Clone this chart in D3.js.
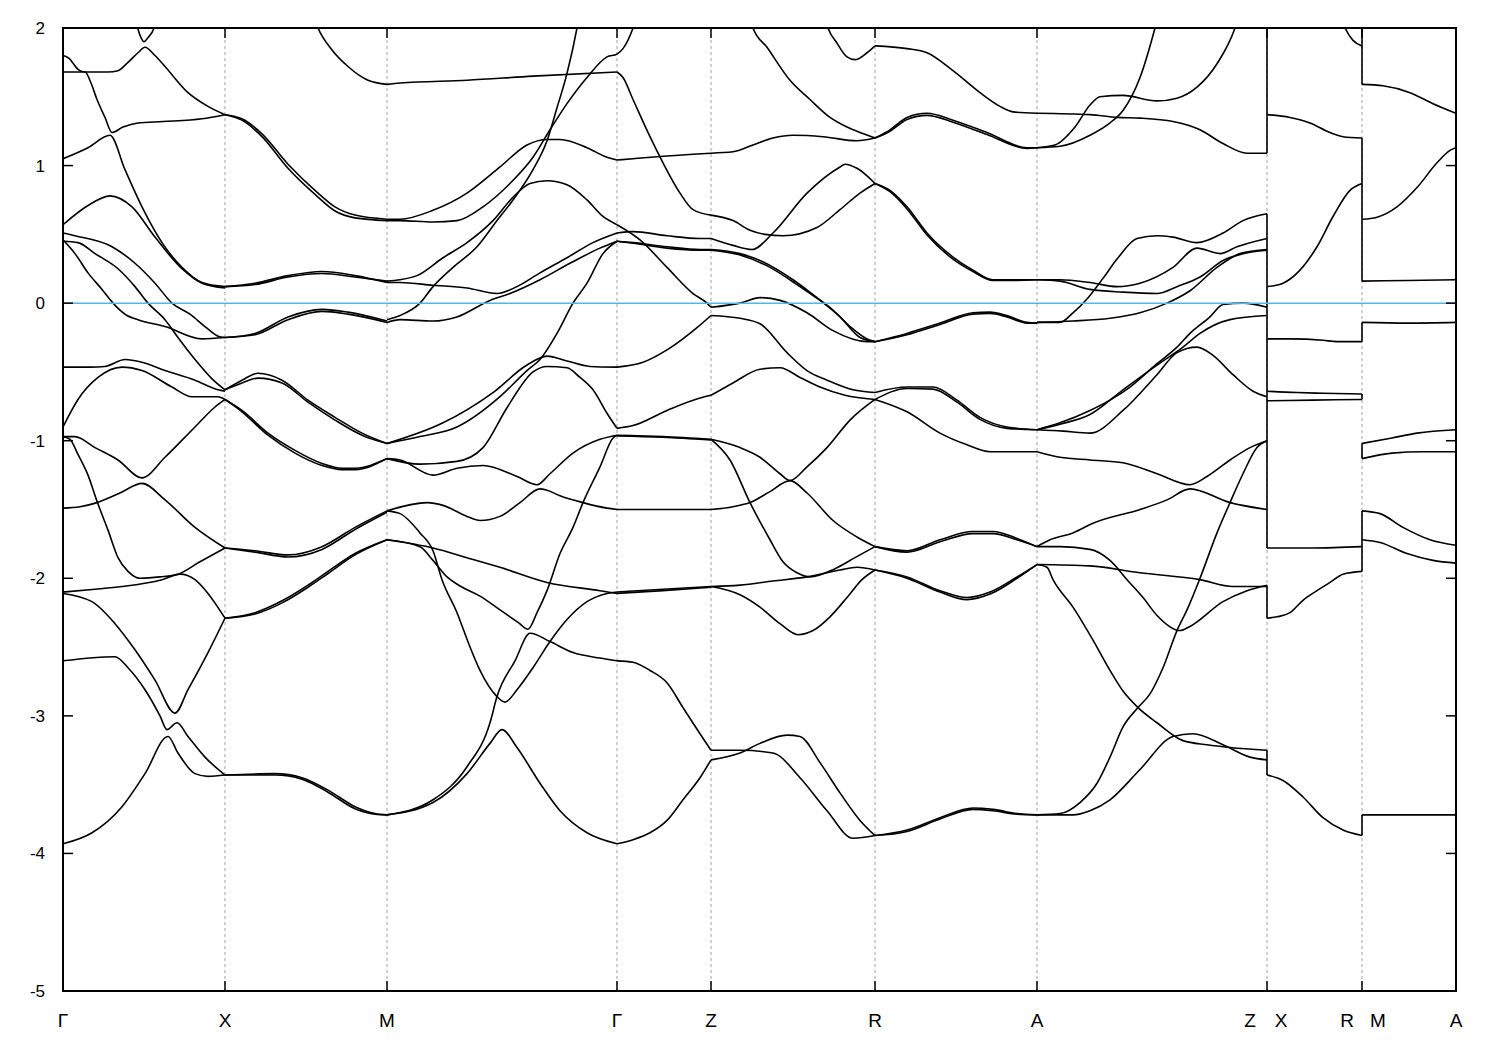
<!DOCTYPE html>
<html><head><meta charset="utf-8">
<script src="https://cdn.jsdelivr.net/npm/d3@7/dist/d3.min.js"></script>
<style>body{margin:0;background:#fff;} text{font-family:"Liberation Sans",Arial,sans-serif;}</style>
</head><body>
<svg id="chart" width="1500" height="1050"></svg>
<script>
// high-symmetry path positions (k) and labels
const kPoints = [0, 1.62, 3.24, 5.54, 6.48, 8.12, 9.74, 12.04, 12.99, 13.93];
const kLabels = [[0,"Γ"],[1.62,"X"],[3.24,"M"],[5.54,"Γ"],[6.48,"Z"],[8.12,"R"],[9.74,"A"],[11.87,"Z"],[12.18,"X"],[12.84,"R"],[13.15,"M"],[13.93,"A"]];
const yTicks = [2,1,0,-1,-2,-3,-4,-5];

// bands, each curve is a list of [k, E(eV)]
const segGX = [
 [[0.66,2.4],[0.74,2.02],[0.78,1.93],[0.81,1.90],[0.85,1.93],[0.92,2.02],[1.0,2.4]],
 [[0,1.80],[0.06,1.78],[0.15,1.70],[0.22,1.68],[0.45,1.68],[0.55,1.69],[0.65,1.75],[0.75,1.82],[0.82,1.86],[0.92,1.80],[1.02,1.72],[1.25,1.53],[1.45,1.43],[1.62,1.37]],
 [[0,1.68],[0.22,1.68],[0.28,1.60],[0.34,1.48],[0.42,1.35],[0.49,1.24],[0.6,1.28],[0.75,1.31],[1.0,1.32],[1.39,1.34],[1.62,1.37]],
 [[0,1.05],[0.25,1.13],[0.47,1.22],[0.62,0.97],[0.79,0.70],[0.99,0.44],[1.19,0.26],[1.39,0.15],[1.62,0.12]],
 [[0,0.57],[0.25,0.71],[0.47,0.78],[0.69,0.70],[0.92,0.48],[1.19,0.25],[1.39,0.145],[1.62,0.11]],
 [[0,0.51],[0.12,0.49],[0.49,0.41],[0.72,0.29],[0.92,0.145],[1.09,0.0],[1.27,-0.08],[1.42,-0.17],[1.55,-0.24],[1.62,-0.25]],
 [[0,0.45],[0.15,0.44],[0.32,0.36],[0.55,0.25],[0.72,0.12],[0.85,0.0],[1.02,-0.12],[1.15,-0.25],[1.32,-0.41],[1.49,-0.55],[1.62,-0.63]],
 [[0,0.46],[0.12,0.36],[0.25,0.22],[0.39,0.10],[0.50,0.0],[0.64,-0.09],[0.75,-0.12],[1.02,-0.17],[1.39,-0.26],[1.62,-0.25]],
 [[0,-0.465],[0.27,-0.465],[0.42,-0.46],[0.62,-0.41],[0.79,-0.43],[1.02,-0.49],[1.32,-0.56],[1.55,-0.63],[1.62,-0.64]],
 [[0,-0.90],[0.15,-0.70],[0.35,-0.54],[0.59,-0.465],[0.79,-0.49],[1.09,-0.61],[1.29,-0.68],[1.55,-0.68],[1.62,-0.70]],
 [[0,-0.97],[0.12,-0.97],[0.32,-1.05],[0.55,-1.14],[0.79,-1.27],[1.02,-1.12],[1.32,-0.90],[1.52,-0.755],[1.62,-0.70]],
 [[0,-0.97],[0.07,-0.99],[0.15,-1.10],[0.25,-1.25],[0.34,-1.44],[0.45,-1.65],[0.55,-1.85],[0.65,-1.95],[0.77,-2.0],[0.97,-1.99],[1.15,-1.97],[1.37,-1.88],[1.62,-1.78]],
 [[0,-1.49],[0.17,-1.48],[0.34,-1.45],[0.57,-1.38],[0.79,-1.31],[1.02,-1.43],[1.32,-1.63],[1.62,-1.78]],
 [[0,-2.10],[0.32,-2.08],[0.59,-2.06],[0.99,-2.01],[1.17,-1.97],[1.32,-2.01],[1.45,-2.11],[1.62,-2.29]],
 [[0,-2.11],[0.29,-2.17],[0.52,-2.33],[0.72,-2.52],[0.92,-2.74],[1.12,-2.98],[1.25,-2.81],[1.45,-2.54],[1.62,-2.29]],
 [[0,-2.60],[0.52,-2.57],[0.65,-2.65],[0.82,-2.81],[0.97,-3.0],[1.04,-3.10],[1.14,-3.05],[1.25,-3.15],[1.42,-3.30],[1.62,-3.43]],
 [[0,-3.93],[0.29,-3.85],[0.59,-3.66],[0.82,-3.42],[1.05,-3.15],[1.15,-3.27],[1.32,-3.42],[1.45,-3.44],[1.62,-3.43]]
];
const segXM = [
 [[2.40,2.35],[2.55,2.0],[2.69,1.84],[2.85,1.72],[3.05,1.62],[3.24,1.59]],
 [[1.62,1.37],[1.79,1.34],[1.99,1.23],[2.25,1.01],[2.52,0.82],[2.72,0.70],[2.92,0.64],[3.24,0.61]],
 [[1.62,1.37],[1.79,1.33],[1.99,1.21],[2.25,0.98],[2.52,0.79],[2.72,0.67],[2.92,0.62],[3.24,0.60]],
 [[1.62,0.12],[1.92,0.145],[2.25,0.20],[2.59,0.23],[2.92,0.20],[3.24,0.15]],
 [[1.62,0.12],[1.92,0.135],[2.25,0.19],[2.59,0.215],[2.92,0.19],[3.24,0.16]],
 [[1.62,-0.25],[1.92,-0.22],[2.25,-0.10],[2.59,-0.045],[2.85,-0.065],[3.24,-0.13]],
 [[1.62,-0.25],[1.92,-0.23],[2.25,-0.12],[2.59,-0.06],[2.85,-0.08],[3.24,-0.14]],
 [[1.62,-0.63],[1.79,-0.56],[1.95,-0.51],[2.19,-0.56],[2.45,-0.705],[2.72,-0.83],[2.99,-0.945],[3.24,-1.02]],
 [[1.62,-0.63],[1.79,-0.58],[1.95,-0.545],[2.19,-0.58],[2.45,-0.72],[2.72,-0.85],[2.99,-0.96],[3.24,-1.02]],
 [[1.62,-0.70],[1.79,-0.78],[2.05,-0.945],[2.32,-1.07],[2.59,-1.165],[2.79,-1.20],[2.92,-1.20],[3.24,-1.13]],
 [[1.62,-0.70],[1.79,-0.79],[2.05,-0.96],[2.32,-1.09],[2.59,-1.18],[2.79,-1.21],[2.92,-1.21],[3.24,-1.13]],
 [[1.62,-1.78],[1.92,-1.80],[2.25,-1.83],[2.59,-1.77],[2.92,-1.63],[3.24,-1.51]],
 [[1.62,-1.78],[1.92,-1.81],[2.25,-1.845],[2.59,-1.79],[2.92,-1.645],[3.24,-1.52]],
 [[1.62,-2.29],[1.92,-2.25],[2.2,-2.16],[2.45,-2.05],[2.65,-1.95],[2.92,-1.82],[3.24,-1.72]],
 [[1.62,-2.29],[1.92,-2.26],[2.2,-2.175],[2.45,-2.065],[2.65,-1.965],[2.92,-1.83],[3.24,-1.72]],
 [[1.62,-3.43],[2.12,-3.42],[2.39,-3.45],[2.65,-3.54],[2.92,-3.66],[3.12,-3.71],[3.24,-3.72]],
 [[1.62,-3.43],[2.12,-3.43],[2.39,-3.46],[2.65,-3.555],[2.92,-3.675],[3.12,-3.715],[3.24,-3.72]]
];
const segMG = [
 [[3.24,1.59],[3.37,1.60],[4.04,1.62],[4.70,1.65],[5.54,1.68]],
 [[3.24,0.61],[3.37,0.61],[3.70,0.675],[4.04,0.80],[4.37,0.99],[4.64,1.15],[4.84,1.19],[4.97,1.19],[5.24,1.13],[5.44,1.06],[5.54,1.04]],
 [[3.24,0.60],[3.37,0.60],[3.70,0.59],[3.94,0.60],[4.20,0.70],[4.47,0.87],[4.70,1.06],[4.87,1.26],[5.04,1.45],[5.24,1.64],[5.44,1.79],[5.54,1.81],[5.60,1.85],[5.70,2.0],[5.78,2.2]],
 [[3.24,-0.12],[3.37,-0.09],[3.57,0.0],[3.70,0.12],[3.90,0.26],[4.14,0.41],[4.34,0.60],[4.50,0.75],[4.70,0.97],[4.84,1.18],[4.94,1.42],[5.04,1.67],[5.14,2.0],[5.2,2.25]],
 [[3.24,0.16],[3.37,0.17],[3.54,0.20],[3.80,0.33],[4.04,0.44],[4.30,0.60],[4.50,0.77],[4.67,0.87],[4.84,0.89],[5.04,0.86],[5.24,0.75],[5.40,0.63],[5.54,0.57]],
 [[3.24,0.15],[3.37,0.15],[3.70,0.13],[4.04,0.11],[4.34,0.07],[4.54,0.12],[4.77,0.22],[5.04,0.33],[5.30,0.44],[5.54,0.51]],
 [[3.24,-0.14],[3.37,-0.12],[3.70,-0.13],[3.94,-0.10],[4.27,0.02],[4.47,0.07],[4.77,0.17],[5.07,0.29],[5.37,0.40],[5.54,0.45]],
 [[3.24,-1.02],[3.57,-0.97],[3.94,-0.90],[4.37,-0.68],[4.64,-0.49],[4.77,-0.41],[4.94,-0.22],[5.10,0.0],[5.24,0.145],[5.40,0.36],[5.54,0.45]],
 [[3.24,-1.02],[3.80,-0.87],[4.30,-0.65],[4.64,-0.45],[4.84,-0.385],[5.04,-0.42],[5.27,-0.46],[5.54,-0.465]],
 [[3.24,-1.13],[3.57,-1.17],[3.94,-1.15],[4.20,-1.05],[4.44,-0.76],[4.70,-0.50],[4.84,-0.46],[5.04,-0.47],[5.17,-0.54],[5.30,-0.63],[5.44,-0.80],[5.54,-0.91]],
 [[3.24,-1.13],[3.37,-1.14],[3.70,-1.25],[3.94,-1.20],[4.20,-1.18],[4.54,-1.26],[4.74,-1.32],[4.87,-1.24],[5.10,-1.09],[5.37,-0.99],[5.54,-0.96]],
 [[3.24,-1.51],[3.64,-1.45],[3.80,-1.47],[4.04,-1.55],[4.17,-1.58],[4.37,-1.55],[4.57,-1.45],[4.77,-1.35],[4.84,-1.36],[4.97,-1.40],[5.20,-1.45],[5.44,-1.49],[5.54,-1.50]],
 [[3.24,-1.51],[3.37,-1.53],[3.57,-1.67],[3.70,-1.80],[3.79,-2.01],[3.94,-2.25],[4.07,-2.50],[4.17,-2.67],[4.34,-2.86],[4.42,-2.90],[4.54,-2.81],[4.70,-2.65],[4.87,-2.46],[5.04,-2.30],[5.24,-2.17],[5.44,-2.11],[5.54,-2.10]],
 [[3.24,-1.72],[3.57,-1.77],[3.70,-1.87],[3.84,-1.99],[3.98,-2.06],[4.17,-2.13],[4.37,-2.23],[4.55,-2.32],[4.65,-2.37],[4.74,-2.25],[4.84,-2.09],[4.97,-1.82],[5.10,-1.63],[5.20,-1.45],[5.37,-1.19],[5.50,-0.98],[5.54,-0.96]],
 [[3.24,-1.72],[3.70,-1.78],[4.04,-1.85],[4.37,-1.92],[4.84,-2.03],[5.37,-2.09],[5.54,-2.11]],
 [[3.24,-3.72],[3.70,-3.61],[4.04,-3.37],[4.27,-3.05],[4.34,-2.86],[4.52,-2.60],[4.67,-2.40],[4.87,-2.46],[5.10,-2.54],[5.37,-2.58],[5.54,-2.60]],
 [[3.24,-3.72],[3.70,-3.63],[4.04,-3.42],[4.27,-3.20],[4.39,-3.10],[4.54,-3.23],[4.77,-3.49],[4.97,-3.69],[5.24,-3.85],[5.54,-3.93]]
];
const segGZ = [
 [[5.54,1.68],[5.60,1.64],[5.70,1.48],[5.87,1.21],[6.00,1.02],[6.17,0.80],[6.30,0.68],[6.48,0.64]],
 [[5.54,1.04],[5.70,1.05],[6.04,1.07],[6.48,1.09]],
 [[5.54,0.57],[5.77,0.46],[6.04,0.26],[6.30,0.07],[6.44,0.0],[6.48,-0.03]],
 [[5.54,0.51],[5.70,0.52],[6.04,0.49],[6.37,0.47],[6.48,0.47]],
 [[5.54,0.45],[5.70,0.44],[6.04,0.41],[6.37,0.39],[6.48,0.39]],
 [[5.54,0.45],[5.70,0.435],[6.04,0.40],[6.37,0.385],[6.48,0.385]],
 [[5.54,-0.465],[5.80,-0.43],[6.04,-0.34],[6.37,-0.16],[6.48,-0.09]],
 [[5.54,-0.91],[5.70,-0.89],[6.04,-0.78],[6.37,-0.69],[6.48,-0.67]],
 [[5.54,-0.96],[6.00,-0.97],[6.48,-0.99]],
 [[5.54,-0.965],[6.00,-0.975],[6.48,-0.995]],
 [[5.54,-1.50],[6.0,-1.50],[6.48,-1.50]],
 [[5.54,-2.10],[6.0,-2.08],[6.48,-2.06]],
 [[5.54,-2.11],[6.0,-2.09],[6.48,-2.065]],
 [[5.54,-2.60],[5.70,-2.61],[5.87,-2.67],[6.04,-2.76],[6.20,-2.94],[6.37,-3.13],[6.48,-3.25]],
 [[5.54,-3.93],[5.70,-3.90],[5.87,-3.85],[6.04,-3.76],[6.20,-3.61],[6.37,-3.45],[6.48,-3.32]]
];
const segZR = [
 [[6.80,2.3],[6.90,2.0],[7.04,1.86],[7.27,1.62],[7.47,1.48],[7.67,1.35],[7.84,1.28],[7.97,1.24],[8.12,1.20]],
 [[7.55,2.3],[7.65,2.0],[7.74,1.89],[7.84,1.79],[7.92,1.77],[8.04,1.82],[8.12,1.87]],
 [[6.48,1.09],[6.70,1.10],[6.90,1.15],[7.10,1.20],[7.30,1.22],[7.60,1.21],[7.94,1.18],[8.12,1.20]],
 [[6.48,0.64],[6.70,0.60],[6.87,0.53],[7.02,0.50],[7.20,0.49],[7.54,0.55],[7.77,0.68],[7.97,0.80],[8.12,0.87]],
 [[6.48,0.47],[6.70,0.42],[6.89,0.39],[7.10,0.51],[7.44,0.80],[7.77,0.99],[7.82,1.01],[7.94,0.98],[8.12,0.87]],
 [[6.48,0.39],[6.77,0.36],[6.97,0.31],[7.30,0.17],[7.54,0.04],[7.70,-0.05],[7.87,-0.17],[8.04,-0.26],[8.12,-0.28]],
 [[6.48,0.385],[6.77,0.35],[7.07,0.26],[7.37,0.12],[7.57,0.02],[7.77,-0.10],[7.97,-0.25],[8.12,-0.28]],
 [[6.48,-0.03],[6.77,0.0],[6.97,0.04],[7.17,0.02],[7.44,-0.07],[7.70,-0.20],[8.04,-0.28],[8.12,-0.28]],
 [[6.48,-0.09],[6.77,-0.11],[6.97,-0.15],[7.24,-0.36],[7.44,-0.49],[7.64,-0.56],[7.90,-0.63],[8.12,-0.65]],
 [[6.48,-0.67],[6.70,-0.58],[6.97,-0.48],[7.17,-0.47],[7.37,-0.54],[7.57,-0.61],[7.82,-0.67],[8.12,-0.70]],
 [[6.48,-0.99],[6.77,-1.05],[6.97,-1.12],[7.17,-1.24],[7.27,-1.29],[7.44,-1.19],[7.64,-1.05],[7.87,-0.85],[8.12,-0.70]],
 [[6.48,-0.99],[6.67,-1.14],[6.87,-1.45],[7.07,-1.72],[7.20,-1.88],[7.34,-1.96],[7.47,-1.99],[7.72,-1.93],[7.92,-1.85],[8.12,-1.77]],
 [[6.48,-1.50],[6.70,-1.48],[6.87,-1.45],[7.07,-1.37],[7.27,-1.29],[7.44,-1.38],[7.70,-1.58],[7.94,-1.70],[8.12,-1.77]],
 [[6.48,-2.06],[6.77,-2.05],[7.10,-2.02],[7.44,-1.99],[7.77,-1.94],[7.94,-1.92],[8.12,-1.94]],
 [[6.48,-2.06],[6.77,-2.12],[6.97,-2.21],[7.17,-2.33],[7.35,-2.41],[7.50,-2.38],[7.67,-2.28],[7.84,-2.14],[7.99,-2.01],[8.12,-1.94]],
 [[6.48,-3.25],[6.77,-3.25],[7.10,-3.27],[7.37,-3.45],[7.64,-3.69],[7.90,-3.89],[8.12,-3.87]],
 [[6.48,-3.32],[6.77,-3.27],[6.97,-3.20],[7.24,-3.14],[7.37,-3.15],[7.57,-3.34],[7.77,-3.56],[7.97,-3.76],[8.12,-3.87]]
];
const segRA = [
 [[8.12,1.87],[8.44,1.85],[8.64,1.82],[8.90,1.69],[9.17,1.53],[9.37,1.43],[9.50,1.39],[9.74,1.38]],
 [[8.12,1.20],[8.27,1.26],[8.44,1.35],[8.64,1.38],[8.90,1.33],[9.24,1.24],[9.64,1.13],[9.74,1.13]],
 [[8.12,1.20],[8.27,1.25],[8.44,1.335],[8.64,1.365],[8.90,1.315],[9.24,1.225],[9.64,1.125],[9.74,1.13]],
 [[8.12,0.87],[8.27,0.82],[8.44,0.70],[8.64,0.51],[8.90,0.335],[9.10,0.24],[9.30,0.17],[9.50,0.17],[9.74,0.17]],
 [[8.12,0.87],[8.27,0.81],[8.44,0.685],[8.64,0.495],[8.90,0.32],[9.10,0.23],[9.30,0.165],[9.50,0.165],[9.74,0.17]],
 [[8.12,-0.28],[8.44,-0.22],[8.77,-0.145],[9.10,-0.07],[9.27,-0.065],[9.44,-0.09],[9.64,-0.14],[9.74,-0.145]],
 [[8.12,-0.28],[8.44,-0.23],[8.77,-0.155],[9.10,-0.08],[9.27,-0.075],[9.44,-0.10],[9.64,-0.145],[9.74,-0.145]],
 [[8.12,-0.65],[8.44,-0.61],[8.70,-0.61],[8.94,-0.705],[9.17,-0.83],[9.44,-0.90],[9.74,-0.92]],
 [[8.12,-0.70],[8.44,-0.62],[8.70,-0.625],[8.94,-0.72],[9.17,-0.845],[9.44,-0.91],[9.74,-0.92]],
 [[8.12,-0.70],[8.44,-0.79],[8.77,-0.945],[9.04,-1.03],[9.27,-1.08],[9.74,-1.08]],
 [[8.12,-1.77],[8.44,-1.80],[8.77,-1.72],[9.10,-1.66],[9.30,-1.66],[9.54,-1.71],[9.74,-1.77]],
 [[8.12,-1.77],[8.44,-1.81],[8.77,-1.735],[9.10,-1.675],[9.30,-1.675],[9.54,-1.72],[9.74,-1.77]],
 [[8.12,-1.94],[8.44,-1.99],[8.77,-2.09],[9.04,-2.14],[9.27,-2.10],[9.54,-1.99],[9.74,-1.90]],
 [[8.12,-1.94],[8.44,-2.00],[8.77,-2.10],[9.04,-2.155],[9.27,-2.115],[9.54,-2.0],[9.74,-1.90]],
 [[8.12,-3.87],[8.44,-3.83],[8.77,-3.74],[9.10,-3.67],[9.30,-3.68],[9.54,-3.71],[9.74,-3.72]],
 [[8.12,-3.87],[8.44,-3.84],[8.77,-3.75],[9.10,-3.68],[9.30,-3.69],[9.54,-3.715],[9.74,-3.72]]
];
const segAZ = [
 [[9.74,1.38],[10.27,1.37],[10.54,1.35],[10.77,1.345],[11.10,1.32],[11.37,1.26],[11.60,1.16],[11.84,1.09],[12.04,1.09]],
 [[9.74,1.13],[9.92,1.15],[10.12,1.28],[10.27,1.44],[10.37,1.50],[10.60,1.51],[10.94,1.47],[11.14,1.49],[11.34,1.57],[11.54,1.74],[11.72,2.0],[11.82,2.25]],
 [[9.74,1.13],[9.97,1.14],[10.27,1.22],[10.47,1.31],[10.60,1.40],[10.77,1.64],[10.92,2.0],[10.99,2.2]],
 [[9.74,-0.14],[9.97,-0.14],[10.10,-0.07],[10.24,0.03],[10.40,0.18],[10.54,0.32],[10.74,0.47],[10.94,0.49],[11.10,0.48],[11.34,0.44],[11.60,0.51],[11.80,0.60],[12.04,0.65]],
 [[9.74,0.17],[9.97,0.17],[10.27,0.15],[10.54,0.12],[10.77,0.145],[11.10,0.26],[11.34,0.40],[11.57,0.36],[11.74,0.41],[12.04,0.47]],
 [[9.74,0.17],[9.97,0.16],[10.27,0.10],[10.60,0.08],[10.94,0.07],[11.14,0.12],[11.37,0.19],[11.60,0.31],[11.80,0.36],[12.04,0.385]],
 [[9.74,-0.14],[10.10,-0.13],[10.47,-0.11],[10.77,-0.07],[11.04,0.0],[11.27,0.09],[11.54,0.26],[11.77,0.36],[12.04,0.39]],
 [[9.74,-0.92],[9.97,-0.87],[10.27,-0.78],[10.47,-0.705],[10.67,-0.61],[10.94,-0.44],[11.14,-0.32],[11.27,-0.22],[11.47,-0.10],[11.60,-0.01],[11.80,0.0],[12.04,-0.03]],
 [[9.74,-0.92],[9.97,-0.88],[10.27,-0.81],[10.60,-0.63],[10.94,-0.45],[11.20,-0.32],[11.37,-0.22],[11.67,-0.12],[12.04,-0.09]],
 [[9.74,-0.92],[10.00,-0.93],[10.27,-0.945],[10.60,-0.78],[10.94,-0.52],[11.14,-0.36],[11.34,-0.32],[11.50,-0.38],[11.70,-0.52],[11.90,-0.64],[12.04,-0.68]],
 [[9.74,-1.08],[9.97,-1.12],[10.27,-1.14],[10.60,-1.16],[10.94,-1.24],[11.27,-1.32],[11.44,-1.26],[11.67,-1.14],[11.87,-1.05],[12.04,-1.00]],
 [[9.74,-1.77],[9.87,-1.72],[10.10,-1.67],[10.30,-1.60],[10.77,-1.50],[11.04,-1.43],[11.27,-1.35],[11.67,-1.45],[12.04,-1.50]],
 [[9.74,-1.77],[9.97,-1.77],[10.27,-1.79],[10.47,-1.87],[10.64,-2.01],[10.80,-2.14],[10.94,-2.27],[11.17,-2.38],[11.27,-2.35],[11.60,-2.17],[11.84,-2.09],[12.04,-2.05]],
 [[9.74,-1.90],[10.27,-1.91],[10.77,-1.96],[11.37,-2.01],[11.70,-2.06],[12.04,-2.06]],
 [[9.74,-1.90],[9.84,-1.92],[9.90,-2.01],[10.10,-2.21],[10.30,-2.45],[10.47,-2.67],[10.60,-2.82],[10.75,-2.94],[10.94,-3.05],[11.20,-3.18],[11.44,-3.21],[11.67,-3.23],[12.04,-3.25]],
 [[9.74,-3.72],[9.97,-3.71],[10.17,-3.63],[10.34,-3.49],[10.47,-3.30],[10.60,-3.08],[10.75,-2.94],[10.87,-2.84],[11.00,-2.65],[11.14,-2.38],[11.24,-2.23],[11.37,-2.00],[11.54,-1.67],[11.67,-1.45],[11.80,-1.24],[11.94,-1.05],[12.04,-1.00]],
 [[9.74,-3.72],[10.10,-3.72],[10.27,-3.69],[10.47,-3.61],[10.77,-3.39],[11.10,-3.15],[11.30,-3.13],[11.60,-3.21],[11.87,-3.30],[12.04,-3.32]]
];
const segXR = [
 [[12.04,1.37],[12.27,1.35],[12.47,1.31],[12.67,1.24],[12.80,1.21],[12.99,1.20]],
 [[12.04,0.12],[12.20,0.145],[12.37,0.24],[12.54,0.41],[12.70,0.63],[12.87,0.82],[12.99,0.87]],
 [[12.72,2.2],[12.82,2.0],[12.90,1.91],[12.99,1.87]],
 [[12.04,-0.26],[12.27,-0.26],[12.60,-0.27],[12.74,-0.28],[12.99,-0.28]],
 [[12.04,-0.64],[12.34,-0.65],[12.60,-0.655],[12.99,-0.66]],
 [[12.04,-0.71],[12.5,-0.705],[12.99,-0.70]],
 [[12.04,-1.78],[12.5,-1.78],[12.99,-1.77]],
 [[12.04,-2.29],[12.14,-2.28],[12.27,-2.25],[12.40,-2.16],[12.54,-2.09],[12.67,-2.03],[12.80,-1.97],[12.99,-1.95]],
 [[12.04,-3.43],[12.20,-3.47],[12.40,-3.59],[12.60,-3.74],[12.80,-3.83],[12.99,-3.87]]
];
const segMA = [
 [[12.99,1.59],[13.20,1.58],[13.47,1.53],[13.70,1.45],[13.93,1.38]],
 [[12.99,0.61],[13.14,0.625],[13.34,0.70],[13.54,0.84],[13.74,1.02],[13.87,1.11],[13.93,1.13]],
 [[12.99,0.16],[13.45,0.165],[13.93,0.17]],
 [[12.99,-0.14],[13.45,-0.145],[13.93,-0.14]],
 [[12.99,-1.02],[13.29,-0.98],[13.54,-0.945],[13.93,-0.92]],
 [[12.99,-1.13],[13.29,-1.09],[13.60,-1.08],[13.93,-1.08]],
 [[12.99,-1.51],[13.17,-1.53],[13.40,-1.63],[13.67,-1.72],[13.93,-1.76]],
 [[12.99,-1.72],[13.17,-1.74],[13.44,-1.82],[13.70,-1.87],[13.93,-1.89]],
 [[12.99,-3.72],[13.45,-3.72],[13.93,-3.72]]
];
// vertical connections where the path jumps (Z|X and R|M)
const jumpsZX = [[1.09,2.5],[-1.78,0.65],[-2.29,-2.05],[-3.43,-3.25]];
const jumpsRM = [[1.59,2.5],[0.16,1.20],[-0.28,-0.14],[-0.70,-0.66],[-1.13,-1.02],[-1.95,-1.51],[-3.87,-3.72]];

const svg = d3.select("#chart");
const L = 63, R = 1456, T = 28, B = 991;
const x = d3.scaleLinear().domain([0, 13.93]).range([L, R]);
const y = d3.scaleLinear().domain([-5, 2]).range([B, T]);

svg.append("rect").attr("width",1500).attr("height",1050).attr("fill","#fff");
svg.append("defs").append("clipPath").attr("id","clip")
  .append("rect").attr("x",L).attr("y",T).attr("width",R-L).attr("height",B-T);

// grid lines at high-symmetry points
svg.append("g").selectAll("line").data(kPoints.slice(1,-1)).join("line")
  .attr("x1",d=>x(d)).attr("x2",d=>x(d)).attr("y1",T).attr("y2",B)
  .attr("stroke","#a0a0a0").attr("stroke-width",1).attr("stroke-dasharray","3,3");

const plot = svg.append("g").attr("clip-path","url(#clip)");
const line = d3.line().x(d=>x(d[0])).y(d=>y(d[1])).curve(d3.curveMonotoneX);
const allCurves = [].concat(segGX, segXM, segMG, segGZ, segZR, segRA, segAZ, segXR, segMA);
plot.selectAll("path.band").data(allCurves).join("path").attr("class","band")
  .attr("d", line).attr("fill","none").attr("stroke","#000").attr("stroke-width",1.6);

const jumps = jumpsZX.map(j=>[12.04, j[0], j[1]]).concat(jumpsRM.map(j=>[12.99, j[0], j[1]]));
plot.selectAll("line.jump").data(jumps).join("line").attr("class","jump")
  .attr("x1",d=>x(d[0])).attr("x2",d=>x(d[0])).attr("y1",d=>y(d[1])).attr("y2",d=>y(d[2]))
  .attr("stroke","#000").attr("stroke-width",1.6);

// Fermi level
plot.append("line").attr("x1",L).attr("x2",R).attr("y1",y(0)).attr("y2",y(0))
  .attr("stroke","#56B4E9").attr("stroke-width",1.5);

// frame
svg.append("rect").attr("x",L).attr("y",T).attr("width",R-L).attr("height",B-T)
  .attr("fill","none").attr("stroke","#000").attr("stroke-width",2);

// y ticks (inside, both sides) and labels
const yt = svg.append("g");
yTicks.forEach(v=>{
  yt.append("line").attr("x1",L).attr("x2",L+10).attr("y1",y(v)).attr("y2",y(v)).attr("stroke","#000").attr("stroke-width",1.5);
  yt.append("line").attr("x1",R-10).attr("x2",R).attr("y1",y(v)).attr("y2",y(v)).attr("stroke","#000").attr("stroke-width",1.5);
  yt.append("text").attr("x",L-18).attr("y",y(v)).attr("dy","0.35em").attr("text-anchor","end")
    .attr("font-size",17).text(v);
});
// x ticks (inside, top and bottom)
kPoints.slice(1,-1).forEach(k=>{
  svg.append("line").attr("x1",x(k)).attr("x2",x(k)).attr("y1",T).attr("y2",T+10).attr("stroke","#000").attr("stroke-width",1.5);
  svg.append("line").attr("x1",x(k)).attr("x2",x(k)).attr("y1",B-10).attr("y2",B).attr("stroke","#000").attr("stroke-width",1.5);
});
svg.append("g").selectAll("text").data(kLabels).join("text")
  .attr("x",d=>x(d[0])).attr("y",1027).attr("text-anchor","middle").attr("font-size",19)
  .text(d=>d[1]);
</script>
</body></html>
